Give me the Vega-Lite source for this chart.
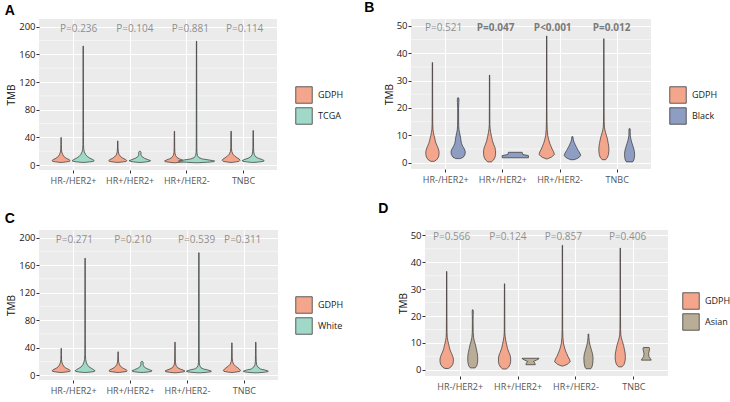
{
"$schema": "https://vega.github.io/schema/vega-lite/v6.json",
"background": "white",
"padding": {"left": 4, "top": 1, "right": 0, "bottom": 0},
"config": {
  "view": {"fill": "#EBEBEB", "stroke": null},
  "axis": {"domain": false, "gridColor": "#FFFFFF", "gridWidth": 1.1, "tickColor": "#333333", "tickSize": 3, "labelFont": "Open Sans", "titleFont": "Open Sans", "labelOverlap": false, "tickCount": 20},
  "axisY": {"labelFontSize": 9.5, "labelColor": "#1a1a1a", "titleFontSize": 10, "titleFontWeight": "normal", "titleColor": "#111111", "labelPadding": 1, "titlePadding": 2},
  "axisX": {"labelFontSize": 9, "labelColor": "#555555", "labelPadding": 3},
  "legend": {"orient": "none", "symbolType": "square", "symbolSize": 272, "symbolStrokeColor": "#3a3a3a", "symbolStrokeWidth": 0.8, "symbolOpacity": 1, "labelFont": "Open Sans", "labelFontSize": 9, "labelColor": "#1a1a1a", "labelOffset": 5, "rowPadding": 1},
  "title": {"anchor": "start", "frame": "bounds", "fontSize": 14, "fontWeight": "bold", "font": "Liberation Sans", "color": "#000000", "offset": 1}
},
"datasets": {
  "minA": [{"m":20},{"m":60},{"m":100},{"m":140},{"m":180}],
  "minB": [{"m":5},{"m":15},{"m":25},{"m":35},{"m":45}],
  "A": [
    {"c":0.79,"g":"GDPH","y":4,"w":0.02},{"c":0.79,"g":"GDPH","y":4.8,"w":0.1},{"c":0.79,"g":"GDPH","y":5.5,"w":0.15},{"c":0.79,"g":"GDPH","y":6.5,"w":0.16},{"c":0.79,"g":"GDPH","y":8,"w":0.14},{"c":0.79,"g":"GDPH","y":10,"w":0.09},{"c":0.79,"g":"GDPH","y":12,"w":0.055},{"c":0.79,"g":"GDPH","y":15,"w":0.03},{"c":0.79,"g":"GDPH","y":19,"w":0.012},{"c":0.79,"g":"GDPH","y":23,"w":0.006},{"c":0.79,"g":"GDPH","y":30,"w":0.004},{"c":0.79,"g":"GDPH","y":40,"w":0.003},
    {"c":1.18,"g":"TCGA","y":4,"w":0.03},{"c":1.18,"g":"TCGA","y":4.8,"w":0.12},{"c":1.18,"g":"TCGA","y":5.5,"w":0.18},{"c":1.18,"g":"TCGA","y":6.5,"w":0.195},{"c":1.18,"g":"TCGA","y":8,"w":0.17},{"c":1.18,"g":"TCGA","y":10,"w":0.12},{"c":1.18,"g":"TCGA","y":12,"w":0.08},{"c":1.18,"g":"TCGA","y":15,"w":0.045},{"c":1.18,"g":"TCGA","y":19,"w":0.02},{"c":1.18,"g":"TCGA","y":23,"w":0.01},{"c":1.18,"g":"TCGA","y":30,"w":0.005},{"c":1.18,"g":"TCGA","y":50,"w":0.004},{"c":1.18,"g":"TCGA","y":172,"w":0.003},
    {"c":1.79,"g":"GDPH","y":4,"w":0.02},{"c":1.79,"g":"GDPH","y":4.8,"w":0.1},{"c":1.79,"g":"GDPH","y":5.5,"w":0.15},{"c":1.79,"g":"GDPH","y":6.5,"w":0.16},{"c":1.79,"g":"GDPH","y":8,"w":0.14},{"c":1.79,"g":"GDPH","y":10,"w":0.09},{"c":1.79,"g":"GDPH","y":12,"w":0.055},{"c":1.79,"g":"GDPH","y":15,"w":0.025},{"c":1.79,"g":"GDPH","y":19,"w":0.01},{"c":1.79,"g":"GDPH","y":25,"w":0.005},{"c":1.79,"g":"GDPH","y":35,"w":0.003},
    {"c":2.18,"g":"TCGA","y":4,"w":0.03},{"c":2.18,"g":"TCGA","y":4.8,"w":0.12},{"c":2.18,"g":"TCGA","y":5.5,"w":0.17},{"c":2.18,"g":"TCGA","y":6.5,"w":0.19},{"c":2.18,"g":"TCGA","y":8,"w":0.14},{"c":2.18,"g":"TCGA","y":10,"w":0.08},{"c":2.18,"g":"TCGA","y":12,"w":0.04},{"c":2.18,"g":"TCGA","y":14,"w":0.025},{"c":2.18,"g":"TCGA","y":16,"w":0.018},{"c":2.18,"g":"TCGA","y":18,"w":0.022},{"c":2.18,"g":"TCGA","y":19.5,"w":0.015},{"c":2.18,"g":"TCGA","y":20,"w":0.01},
    {"c":2.79,"g":"GDPH","y":3.5,"w":0.02},{"c":2.79,"g":"GDPH","y":4.3,"w":0.1},{"c":2.79,"g":"GDPH","y":5,"w":0.16},{"c":2.79,"g":"GDPH","y":6,"w":0.175},{"c":2.79,"g":"GDPH","y":7.5,"w":0.14},{"c":2.79,"g":"GDPH","y":9,"w":0.09},{"c":2.79,"g":"GDPH","y":11,"w":0.045},{"c":2.79,"g":"GDPH","y":14,"w":0.02},{"c":2.79,"g":"GDPH","y":18,"w":0.008},{"c":2.79,"g":"GDPH","y":25,"w":0.005},{"c":2.79,"g":"GDPH","y":49,"w":0.003},
    {"c":3.18,"g":"TCGA","y":3.5,"w":0.03},{"c":3.18,"g":"TCGA","y":4.3,"w":0.2},{"c":3.18,"g":"TCGA","y":5,"w":0.3},{"c":3.18,"g":"TCGA","y":6,"w":0.32},{"c":3.18,"g":"TCGA","y":7.5,"w":0.22},{"c":3.18,"g":"TCGA","y":9,"w":0.1},{"c":3.18,"g":"TCGA","y":11,"w":0.04},{"c":3.18,"g":"TCGA","y":14,"w":0.015},{"c":3.18,"g":"TCGA","y":18,"w":0.008},{"c":3.18,"g":"TCGA","y":25,"w":0.005},{"c":3.18,"g":"TCGA","y":179,"w":0.003},
    {"c":3.79,"g":"GDPH","y":4,"w":0.02},{"c":3.79,"g":"GDPH","y":4.8,"w":0.09},{"c":3.79,"g":"GDPH","y":5.5,"w":0.14},{"c":3.79,"g":"GDPH","y":7,"w":0.158},{"c":3.79,"g":"GDPH","y":9,"w":0.14},{"c":3.79,"g":"GDPH","y":11,"w":0.1},{"c":3.79,"g":"GDPH","y":13,"w":0.065},{"c":3.79,"g":"GDPH","y":16,"w":0.03},{"c":3.79,"g":"GDPH","y":20,"w":0.012},{"c":3.79,"g":"GDPH","y":25,"w":0.006},{"c":3.79,"g":"GDPH","y":49,"w":0.003},
    {"c":4.18,"g":"TCGA","y":4,"w":0.03},{"c":4.18,"g":"TCGA","y":4.8,"w":0.12},{"c":4.18,"g":"TCGA","y":5.5,"w":0.18},{"c":4.18,"g":"TCGA","y":6.5,"w":0.195},{"c":4.18,"g":"TCGA","y":8,"w":0.16},{"c":4.18,"g":"TCGA","y":10,"w":0.09},{"c":4.18,"g":"TCGA","y":12,"w":0.045},{"c":4.18,"g":"TCGA","y":15,"w":0.02},{"c":4.18,"g":"TCGA","y":19,"w":0.01},{"c":4.18,"g":"TCGA","y":25,"w":0.006},{"c":4.18,"g":"TCGA","y":50,"w":0.003}
  ],
  "C": [
    {"c":0.79,"g":"GDPH","y":4,"w":0.02},{"c":0.79,"g":"GDPH","y":4.8,"w":0.1},{"c":0.79,"g":"GDPH","y":5.5,"w":0.15},{"c":0.79,"g":"GDPH","y":6.5,"w":0.16},{"c":0.79,"g":"GDPH","y":8,"w":0.14},{"c":0.79,"g":"GDPH","y":10,"w":0.09},{"c":0.79,"g":"GDPH","y":12,"w":0.055},{"c":0.79,"g":"GDPH","y":15,"w":0.03},{"c":0.79,"g":"GDPH","y":19,"w":0.012},{"c":0.79,"g":"GDPH","y":23,"w":0.006},{"c":0.79,"g":"GDPH","y":30,"w":0.004},{"c":0.79,"g":"GDPH","y":39,"w":0.003},
    {"c":1.21,"g":"White","y":4,"w":0.03},{"c":1.21,"g":"White","y":4.8,"w":0.12},{"c":1.21,"g":"White","y":5.5,"w":0.165},{"c":1.21,"g":"White","y":6.5,"w":0.175},{"c":1.21,"g":"White","y":8,"w":0.15},{"c":1.21,"g":"White","y":10,"w":0.11},{"c":1.21,"g":"White","y":12,"w":0.07},{"c":1.21,"g":"White","y":15,"w":0.04},{"c":1.21,"g":"White","y":19,"w":0.02},{"c":1.21,"g":"White","y":23,"w":0.01},{"c":1.21,"g":"White","y":30,"w":0.005},{"c":1.21,"g":"White","y":50,"w":0.004},{"c":1.21,"g":"White","y":170,"w":0.003},
    {"c":1.79,"g":"GDPH","y":4,"w":0.02},{"c":1.79,"g":"GDPH","y":4.8,"w":0.1},{"c":1.79,"g":"GDPH","y":5.5,"w":0.15},{"c":1.79,"g":"GDPH","y":6.5,"w":0.16},{"c":1.79,"g":"GDPH","y":8,"w":0.14},{"c":1.79,"g":"GDPH","y":10,"w":0.09},{"c":1.79,"g":"GDPH","y":12,"w":0.055},{"c":1.79,"g":"GDPH","y":15,"w":0.025},{"c":1.79,"g":"GDPH","y":19,"w":0.01},{"c":1.79,"g":"GDPH","y":25,"w":0.005},{"c":1.79,"g":"GDPH","y":34,"w":0.003},
    {"c":2.21,"g":"White","y":4,"w":0.03},{"c":2.21,"g":"White","y":4.8,"w":0.12},{"c":2.21,"g":"White","y":5.5,"w":0.165},{"c":2.21,"g":"White","y":6.5,"w":0.175},{"c":2.21,"g":"White","y":8,"w":0.13},{"c":2.21,"g":"White","y":10,"w":0.075},{"c":2.21,"g":"White","y":12,"w":0.04},{"c":2.21,"g":"White","y":14,"w":0.025},{"c":2.21,"g":"White","y":16,"w":0.018},{"c":2.21,"g":"White","y":18,"w":0.022},{"c":2.21,"g":"White","y":19.5,"w":0.015},{"c":2.21,"g":"White","y":20,"w":0.01},
    {"c":2.79,"g":"GDPH","y":3.5,"w":0.02},{"c":2.79,"g":"GDPH","y":4.3,"w":0.1},{"c":2.79,"g":"GDPH","y":5,"w":0.16},{"c":2.79,"g":"GDPH","y":6,"w":0.175},{"c":2.79,"g":"GDPH","y":7.5,"w":0.14},{"c":2.79,"g":"GDPH","y":9,"w":0.09},{"c":2.79,"g":"GDPH","y":11,"w":0.045},{"c":2.79,"g":"GDPH","y":14,"w":0.02},{"c":2.79,"g":"GDPH","y":18,"w":0.008},{"c":2.79,"g":"GDPH","y":25,"w":0.005},{"c":2.79,"g":"GDPH","y":48,"w":0.003},
    {"c":3.21,"g":"White","y":3.5,"w":0.03},{"c":3.21,"g":"White","y":4.3,"w":0.15},{"c":3.21,"g":"White","y":5,"w":0.21},{"c":3.21,"g":"White","y":6,"w":0.22},{"c":3.21,"g":"White","y":7.5,"w":0.16},{"c":3.21,"g":"White","y":9,"w":0.08},{"c":3.21,"g":"White","y":11,"w":0.035},{"c":3.21,"g":"White","y":14,"w":0.015},{"c":3.21,"g":"White","y":18,"w":0.008},{"c":3.21,"g":"White","y":25,"w":0.005},{"c":3.21,"g":"White","y":178,"w":0.003},
    {"c":3.79,"g":"GDPH","y":4,"w":0.02},{"c":3.79,"g":"GDPH","y":4.8,"w":0.09},{"c":3.79,"g":"GDPH","y":5.5,"w":0.14},{"c":3.79,"g":"GDPH","y":7,"w":0.15},{"c":3.79,"g":"GDPH","y":9,"w":0.13},{"c":3.79,"g":"GDPH","y":11,"w":0.1},{"c":3.79,"g":"GDPH","y":13,"w":0.065},{"c":3.79,"g":"GDPH","y":16,"w":0.03},{"c":3.79,"g":"GDPH","y":20,"w":0.012},{"c":3.79,"g":"GDPH","y":25,"w":0.006},{"c":3.79,"g":"GDPH","y":47,"w":0.003},
    {"c":4.21,"g":"White","y":3.5,"w":0.03},{"c":4.21,"g":"White","y":4.3,"w":0.15},{"c":4.21,"g":"White","y":5,"w":0.21},{"c":4.21,"g":"White","y":6,"w":0.22},{"c":4.21,"g":"White","y":7.5,"w":0.16},{"c":4.21,"g":"White","y":9,"w":0.08},{"c":4.21,"g":"White","y":12,"w":0.035},{"c":4.21,"g":"White","y":15,"w":0.015},{"c":4.21,"g":"White","y":20,"w":0.008},{"c":4.21,"g":"White","y":30,"w":0.005},{"c":4.21,"g":"White","y":48,"w":0.003}
  ],
  "B": [
    {"c":0.775,"g":"GDPH","y":0.5,"w":0.03},{"c":0.775,"g":"GDPH","y":1,"w":0.07},{"c":0.775,"g":"GDPH","y":2,"w":0.105},{"c":0.775,"g":"GDPH","y":3,"w":0.115},{"c":0.775,"g":"GDPH","y":4,"w":0.116},{"c":0.775,"g":"GDPH","y":5,"w":0.105},{"c":0.775,"g":"GDPH","y":6,"w":0.085},{"c":0.775,"g":"GDPH","y":7,"w":0.065},{"c":0.775,"g":"GDPH","y":8,"w":0.05},{"c":0.775,"g":"GDPH","y":9,"w":0.04},{"c":0.775,"g":"GDPH","y":10,"w":0.028},{"c":0.775,"g":"GDPH","y":11,"w":0.018},{"c":0.775,"g":"GDPH","y":12,"w":0.01},{"c":0.775,"g":"GDPH","y":14,"w":0.006},{"c":0.775,"g":"GDPH","y":20,"w":0.004},{"c":0.775,"g":"GDPH","y":36.6,"w":0.003},
    {"c":1.225,"g":"Black","y":1.5,"w":0.04},{"c":1.225,"g":"Black","y":2,"w":0.09},{"c":1.225,"g":"Black","y":3,"w":0.12},{"c":1.225,"g":"Black","y":4,"w":0.125},{"c":1.225,"g":"Black","y":5,"w":0.11},{"c":1.225,"g":"Black","y":6,"w":0.08},{"c":1.225,"g":"Black","y":7,"w":0.06},{"c":1.225,"g":"Black","y":8,"w":0.05},{"c":1.225,"g":"Black","y":9,"w":0.044},{"c":1.225,"g":"Black","y":10,"w":0.035},{"c":1.225,"g":"Black","y":11,"w":0.025},{"c":1.225,"g":"Black","y":12,"w":0.015},{"c":1.225,"g":"Black","y":13.5,"w":0.01},{"c":1.225,"g":"Black","y":16,"w":0.008},{"c":1.225,"g":"Black","y":20,"w":0.008},{"c":1.225,"g":"Black","y":22,"w":0.012},{"c":1.225,"g":"Black","y":23,"w":0.015},{"c":1.225,"g":"Black","y":23.7,"w":0.008},
    {"c":1.775,"g":"GDPH","y":0.3,"w":0.03},{"c":1.775,"g":"GDPH","y":1,"w":0.07},{"c":1.775,"g":"GDPH","y":2,"w":0.095},{"c":1.775,"g":"GDPH","y":3,"w":0.105},{"c":1.775,"g":"GDPH","y":4.4,"w":0.105},{"c":1.775,"g":"GDPH","y":5.5,"w":0.095},{"c":1.775,"g":"GDPH","y":6.5,"w":0.075},{"c":1.775,"g":"GDPH","y":8,"w":0.05},{"c":1.775,"g":"GDPH","y":9.5,"w":0.035},{"c":1.775,"g":"GDPH","y":11,"w":0.02},{"c":1.775,"g":"GDPH","y":12.5,"w":0.01},{"c":1.775,"g":"GDPH","y":14,"w":0.005},{"c":1.775,"g":"GDPH","y":20,"w":0.004},{"c":1.775,"g":"GDPH","y":32,"w":0.003},
    {"c":2.225,"g":"Black","y":1.8,"w":0.23},{"c":2.225,"g":"Black","y":2.6,"w":0.23},{"c":2.225,"g":"Black","y":3.0,"w":0.13},{"c":2.225,"g":"Black","y":3.8,"w":0.12},
    {"c":2.775,"g":"GDPH","y":1.4,"w":0.01},{"c":2.775,"g":"GDPH","y":2,"w":0.08},{"c":2.775,"g":"GDPH","y":3,"w":0.135},{"c":2.775,"g":"GDPH","y":4,"w":0.12},{"c":2.775,"g":"GDPH","y":5,"w":0.095},{"c":2.775,"g":"GDPH","y":6,"w":0.075},{"c":2.775,"g":"GDPH","y":7,"w":0.055},{"c":2.775,"g":"GDPH","y":8,"w":0.04},{"c":2.775,"g":"GDPH","y":9,"w":0.028},{"c":2.775,"g":"GDPH","y":10,"w":0.018},{"c":2.775,"g":"GDPH","y":12,"w":0.009},{"c":2.775,"g":"GDPH","y":15,"w":0.005},{"c":2.775,"g":"GDPH","y":20,"w":0.004},{"c":2.775,"g":"GDPH","y":46.3,"w":0.003},
    {"c":3.225,"g":"Black","y":1.1,"w":0.03},{"c":3.225,"g":"Black","y":1.5,"w":0.08},{"c":3.225,"g":"Black","y":2,"w":0.12},{"c":3.225,"g":"Black","y":2.7,"w":0.145},{"c":3.225,"g":"Black","y":3.5,"w":0.13},{"c":3.225,"g":"Black","y":4.5,"w":0.1},{"c":3.225,"g":"Black","y":5.5,"w":0.075},{"c":3.225,"g":"Black","y":6.5,"w":0.05},{"c":3.225,"g":"Black","y":7.5,"w":0.03},{"c":3.225,"g":"Black","y":8.3,"w":0.015},{"c":3.225,"g":"Black","y":9,"w":0.012},{"c":3.225,"g":"Black","y":9.5,"w":0.01},
    {"c":3.775,"g":"GDPH","y":1.1,"w":0.03},{"c":3.775,"g":"GDPH","y":2,"w":0.065},{"c":3.775,"g":"GDPH","y":3,"w":0.08},{"c":3.775,"g":"GDPH","y":4,"w":0.087},{"c":3.775,"g":"GDPH","y":5,"w":0.088},{"c":3.775,"g":"GDPH","y":6,"w":0.085},{"c":3.775,"g":"GDPH","y":7,"w":0.077},{"c":3.775,"g":"GDPH","y":8,"w":0.068},{"c":3.775,"g":"GDPH","y":9,"w":0.058},{"c":3.775,"g":"GDPH","y":10,"w":0.045},{"c":3.775,"g":"GDPH","y":11,"w":0.03},{"c":3.775,"g":"GDPH","y":12,"w":0.018},{"c":3.775,"g":"GDPH","y":13,"w":0.01},{"c":3.775,"g":"GDPH","y":15,"w":0.006},{"c":3.775,"g":"GDPH","y":20,"w":0.004},{"c":3.775,"g":"GDPH","y":45.3,"w":0.003},
    {"c":4.225,"g":"Black","y":0.3,"w":0.055},{"c":4.225,"g":"Black","y":1,"w":0.075},{"c":4.225,"g":"Black","y":2,"w":0.085},{"c":4.225,"g":"Black","y":3,"w":0.088},{"c":4.225,"g":"Black","y":4,"w":0.085},{"c":4.225,"g":"Black","y":5,"w":0.075},{"c":4.225,"g":"Black","y":6,"w":0.06},{"c":4.225,"g":"Black","y":7,"w":0.045},{"c":4.225,"g":"Black","y":8,"w":0.03},{"c":4.225,"g":"Black","y":9,"w":0.02},{"c":4.225,"g":"Black","y":10,"w":0.012},{"c":4.225,"g":"Black","y":11,"w":0.012},{"c":4.225,"g":"Black","y":12.4,"w":0.01}
  ],
  "D": [
    {"c":0.775,"g":"GDPH","y":0.5,"w":0.03},{"c":0.775,"g":"GDPH","y":1,"w":0.07},{"c":0.775,"g":"GDPH","y":2,"w":0.105},{"c":0.775,"g":"GDPH","y":3,"w":0.115},{"c":0.775,"g":"GDPH","y":4,"w":0.116},{"c":0.775,"g":"GDPH","y":5,"w":0.105},{"c":0.775,"g":"GDPH","y":6,"w":0.085},{"c":0.775,"g":"GDPH","y":7,"w":0.065},{"c":0.775,"g":"GDPH","y":8,"w":0.05},{"c":0.775,"g":"GDPH","y":9,"w":0.04},{"c":0.775,"g":"GDPH","y":10,"w":0.028},{"c":0.775,"g":"GDPH","y":11,"w":0.018},{"c":0.775,"g":"GDPH","y":12,"w":0.01},{"c":0.775,"g":"GDPH","y":14,"w":0.006},{"c":0.775,"g":"GDPH","y":20,"w":0.004},{"c":0.775,"g":"GDPH","y":36.6,"w":0.003},
    {"c":1.225,"g":"Asian","y":0.7,"w":0.04},{"c":1.225,"g":"Asian","y":1.5,"w":0.07},{"c":1.225,"g":"Asian","y":3,"w":0.085},{"c":1.225,"g":"Asian","y":5,"w":0.086},{"c":1.225,"g":"Asian","y":6.5,"w":0.075},{"c":1.225,"g":"Asian","y":8,"w":0.06},{"c":1.225,"g":"Asian","y":9.5,"w":0.045},{"c":1.225,"g":"Asian","y":10.5,"w":0.03},{"c":1.225,"g":"Asian","y":12,"w":0.015},{"c":1.225,"g":"Asian","y":14,"w":0.008},{"c":1.225,"g":"Asian","y":18,"w":0.006},{"c":1.225,"g":"Asian","y":20.5,"w":0.008},{"c":1.225,"g":"Asian","y":21.5,"w":0.01},{"c":1.225,"g":"Asian","y":22.3,"w":0.006},
    {"c":1.775,"g":"GDPH","y":0.3,"w":0.03},{"c":1.775,"g":"GDPH","y":1,"w":0.07},{"c":1.775,"g":"GDPH","y":2,"w":0.095},{"c":1.775,"g":"GDPH","y":3,"w":0.105},{"c":1.775,"g":"GDPH","y":4.4,"w":0.105},{"c":1.775,"g":"GDPH","y":5.5,"w":0.095},{"c":1.775,"g":"GDPH","y":6.5,"w":0.075},{"c":1.775,"g":"GDPH","y":8,"w":0.05},{"c":1.775,"g":"GDPH","y":9.5,"w":0.035},{"c":1.775,"g":"GDPH","y":11,"w":0.02},{"c":1.775,"g":"GDPH","y":12.5,"w":0.01},{"c":1.775,"g":"GDPH","y":14,"w":0.005},{"c":1.775,"g":"GDPH","y":20,"w":0.004},{"c":1.775,"g":"GDPH","y":32,"w":0.003},
    {"c":2.225,"g":"Asian","y":1.9,"w":0.08},{"c":2.225,"g":"Asian","y":2.5,"w":0.075},{"c":2.225,"g":"Asian","y":3.1,"w":0.05},{"c":2.225,"g":"Asian","y":3.6,"w":0.1},{"c":2.225,"g":"Asian","y":4.0,"w":0.14},{"c":2.225,"g":"Asian","y":4.3,"w":0.145},
    {"c":2.775,"g":"GDPH","y":1.4,"w":0.01},{"c":2.775,"g":"GDPH","y":2,"w":0.08},{"c":2.775,"g":"GDPH","y":3,"w":0.135},{"c":2.775,"g":"GDPH","y":4,"w":0.12},{"c":2.775,"g":"GDPH","y":5,"w":0.095},{"c":2.775,"g":"GDPH","y":6,"w":0.075},{"c":2.775,"g":"GDPH","y":7,"w":0.055},{"c":2.775,"g":"GDPH","y":8,"w":0.04},{"c":2.775,"g":"GDPH","y":9,"w":0.028},{"c":2.775,"g":"GDPH","y":10,"w":0.018},{"c":2.775,"g":"GDPH","y":12,"w":0.009},{"c":2.775,"g":"GDPH","y":15,"w":0.005},{"c":2.775,"g":"GDPH","y":20,"w":0.004},{"c":2.775,"g":"GDPH","y":46.3,"w":0.003},
    {"c":3.225,"g":"Asian","y":0.4,"w":0.04},{"c":3.225,"g":"Asian","y":1,"w":0.06},{"c":3.225,"g":"Asian","y":2.5,"w":0.075},{"c":3.225,"g":"Asian","y":4.5,"w":0.08},{"c":3.225,"g":"Asian","y":6,"w":0.07},{"c":3.225,"g":"Asian","y":7.5,"w":0.05},{"c":3.225,"g":"Asian","y":9,"w":0.03},{"c":3.225,"g":"Asian","y":10.5,"w":0.015},{"c":3.225,"g":"Asian","y":12,"w":0.008},{"c":3.225,"g":"Asian","y":13.3,"w":0.006},
    {"c":3.775,"g":"GDPH","y":1.1,"w":0.03},{"c":3.775,"g":"GDPH","y":2,"w":0.065},{"c":3.775,"g":"GDPH","y":3,"w":0.08},{"c":3.775,"g":"GDPH","y":4,"w":0.087},{"c":3.775,"g":"GDPH","y":5,"w":0.088},{"c":3.775,"g":"GDPH","y":6,"w":0.085},{"c":3.775,"g":"GDPH","y":7,"w":0.077},{"c":3.775,"g":"GDPH","y":8,"w":0.068},{"c":3.775,"g":"GDPH","y":9,"w":0.058},{"c":3.775,"g":"GDPH","y":10,"w":0.045},{"c":3.775,"g":"GDPH","y":11,"w":0.03},{"c":3.775,"g":"GDPH","y":12,"w":0.018},{"c":3.775,"g":"GDPH","y":13,"w":0.01},{"c":3.775,"g":"GDPH","y":15,"w":0.006},{"c":3.775,"g":"GDPH","y":20,"w":0.004},{"c":3.775,"g":"GDPH","y":45.3,"w":0.003},
    {"c":4.225,"g":"Asian","y":3.6,"w":0.085},{"c":4.225,"g":"Asian","y":4.2,"w":0.07},{"c":4.225,"g":"Asian","y":5,"w":0.045},{"c":4.225,"g":"Asian","y":6,"w":0.04},{"c":4.225,"g":"Asian","y":7,"w":0.05},{"c":4.225,"g":"Asian","y":7.8,"w":0.057},{"c":4.225,"g":"Asian","y":8.3,"w":0.05}
  ],
  "Ap": [{"x":1.1,"y":200,"t":"P=0.236","b":false},{"x":2.09,"y":200,"t":"P=0.104","b":false},{"x":3.07,"y":200,"t":"P=0.881","b":false},{"x":4.03,"y":200,"t":"P=0.114","b":false}],
  "Bp": [{"x":0.97,"y":50,"t":"P=0.521","b":false},{"x":1.88,"y":50,"t":"P=0.047","b":true},{"x":2.88,"y":50,"t":"P<0.001","b":true},{"x":3.91,"y":50,"t":"P=0.012","b":true}],
  "Cp": [{"x":1.02,"y":200,"t":"P=0.271","b":false},{"x":2.05,"y":200,"t":"P=0.210","b":false},{"x":3.17,"y":200,"t":"P=0.539","b":false},{"x":3.98,"y":200,"t":"P=0.311","b":false}],
  "Dp": [{"x":0.86,"y":50,"t":"P=0.566","b":false},{"x":1.83,"y":50,"t":"P=0.124","b":false},{"x":2.79,"y":50,"t":"P=0.857","b":false},{"x":3.9,"y":50,"t":"P=0.406","b":false}]
},
"spacing": 17,
"vconcat": [
  {"spacing": 20, "hconcat": [
    {"width": 238, "height": 151, "title": {"text": "A", "dx": -2},
     "layer": [
      {"data": {"name": "minA"}, "mark": {"type": "rule", "color": "#FFFFFF", "strokeWidth": 0.5},
       "encoding": {"y": {"field": "m", "type": "quantitative", "title": "TMB", "scale": {"domain": [-7, 211], "nice": false, "zero": false},
               "axis": {"values": [0,40,80,120,160,200], "labelOverlap": false, "tickCount": 20}}}},
      {"data": {"name": "A"},
       "transform": [{"calculate": "datum.c - datum.w", "as": "lo"}, {"calculate": "datum.c + datum.w", "as": "hi"}],
       "mark": {"type": "area", "orient": "horizontal", "stroke": "#333333", "strokeWidth": 0.7, "opacity": 1},
       "encoding": {
         "y": {"field": "y", "type": "quantitative"},
         "x": {"field": "lo", "type": "quantitative", "stack": null, "title": null, "scale": {"domain": [0.4, 4.6], "nice": false, "zero": false},
               "axis": {"values": [1,2,3,4], "labelExpr": "['','HR-/HER2+','HR+/HER2+','HR+/HER2-','TNBC'][datum.value]"}},
         "x2": {"field": "hi"},
         "fill": {"field": "g", "type": "nominal", "scale": {"domain": ["GDPH", "TCGA"], "range": ["#F4A68D", "#A0D9C8"]}, "legend": {"title": null, "legendX": 256, "legendY": 67}},
         "detail": {"field": "c", "type": "nominal"}
       }},
      {"data": {"name": "Ap"},
       "mark": {"type": "text", "font": "Open Sans", "fontSize": 10, "color": "#8f8f8f", "baseline": "middle", "dy": 2},
       "encoding": {"x": {"field": "x", "type": "quantitative"}, "y": {"field": "y", "type": "quantitative"}, "text": {"field": "t"}}}
     ]},
    {"width": 240, "height": 150, "title": {"text": "B", "dx": -20, "offset": 4},
     "layer": [
      {"data": {"name": "minB"}, "mark": {"type": "rule", "color": "#FFFFFF", "strokeWidth": 0.5},
       "encoding": {"y": {"field": "m", "type": "quantitative", "title": "TMB", "scale": {"domain": [-2.3, 52.5], "nice": false, "zero": false},
               "axis": {"values": [0,10,20,30,40,50], "labelOverlap": false, "tickCount": 20}}}},
      {"data": {"name": "B"},
       "transform": [{"calculate": "datum.c - datum.w", "as": "lo"}, {"calculate": "datum.c + datum.w", "as": "hi"}],
       "mark": {"type": "area", "orient": "horizontal", "stroke": "#333333", "strokeWidth": 0.7, "opacity": 1},
       "encoding": {
         "y": {"field": "y", "type": "quantitative"},
         "x": {"field": "lo", "type": "quantitative", "stack": null, "title": null, "scale": {"domain": [0.4, 4.6], "nice": false, "zero": false},
               "axis": {"values": [1,2,3,4], "labelExpr": "['','HR-/HER2+','HR+/HER2+','HR+/HER2-','TNBC'][datum.value]"}},
         "x2": {"field": "hi"},
         "fill": {"field": "g", "type": "nominal", "scale": {"domain": ["GDPH", "Black"], "range": ["#F4A68D", "#8E9DC2"]}, "legend": {"title": null, "legendX": 258, "legendY": 67}},
         "detail": {"field": "c", "type": "nominal"}
       }},
      {"data": {"name": "Bp"}, "transform": [{"filter": "!datum.b"}],
       "mark": {"type": "text", "font": "Open Sans", "fontSize": 10, "color": "#8f8f8f", "baseline": "middle", "dy": 2},
       "encoding": {"x": {"field": "x", "type": "quantitative"}, "y": {"field": "y", "type": "quantitative"}, "text": {"field": "t"}}},
      {"data": {"name": "Bp"}, "transform": [{"filter": "datum.b"}],
       "mark": {"type": "text", "font": "Open Sans", "fontSize": 10, "fontWeight": "bold", "color": "#7a7a7a", "baseline": "middle", "dy": 2},
       "encoding": {"x": {"field": "x", "type": "quantitative"}, "y": {"field": "y", "type": "quantitative"}, "text": {"field": "t"}}}
     ]}
  ],
  "resolve": {"scale": {"fill": "independent"}}},
  {"spacing": 34, "hconcat": [
    {"width": 239, "height": 150, "title": {"text": "C", "offset": 4, "dx": -2},
     "layer": [
      {"data": {"name": "minA"}, "mark": {"type": "rule", "color": "#FFFFFF", "strokeWidth": 0.5},
       "encoding": {"y": {"field": "m", "type": "quantitative", "title": "TMB", "scale": {"domain": [-7, 211], "nice": false, "zero": false},
               "axis": {"values": [0,40,80,120,160,200], "labelOverlap": false, "tickCount": 20}}}},
      {"data": {"name": "C"},
       "transform": [{"calculate": "datum.c - datum.w", "as": "lo"}, {"calculate": "datum.c + datum.w", "as": "hi"}],
       "mark": {"type": "area", "orient": "horizontal", "stroke": "#333333", "strokeWidth": 0.7, "opacity": 1},
       "encoding": {
         "y": {"field": "y", "type": "quantitative"},
         "x": {"field": "lo", "type": "quantitative", "stack": null, "title": null, "scale": {"domain": [0.4, 4.6], "nice": false, "zero": false},
               "axis": {"values": [1,2,3,4], "labelExpr": "['','HR-/HER2+','HR+/HER2+','HR+/HER2-','TNBC'][datum.value]"}},
         "x2": {"field": "hi"},
         "fill": {"field": "g", "type": "nominal", "scale": {"domain": ["GDPH", "White"], "range": ["#F4A68D", "#A0D9C8"]}, "legend": {"title": null, "legendX": 256, "legendY": 66}},
         "detail": {"field": "c", "type": "nominal"}
       }},
      {"data": {"name": "Cp"},
       "mark": {"type": "text", "font": "Open Sans", "fontSize": 10, "color": "#8f8f8f", "baseline": "middle", "dy": 2},
       "encoding": {"x": {"field": "x", "type": "quantitative"}, "y": {"field": "y", "type": "quantitative"}, "text": {"field": "t"}}}
     ]},
    {"width": 243, "height": 146, "title": {"text": "D", "dx": -20, "offset": 14},
     "layer": [
      {"data": {"name": "minB"}, "mark": {"type": "rule", "color": "#FFFFFF", "strokeWidth": 0.5},
       "encoding": {"y": {"field": "m", "type": "quantitative", "title": "TMB", "scale": {"domain": [-2.3, 52], "nice": false, "zero": false},
               "axis": {"values": [0,10,20,30,40,50], "labelOverlap": false, "tickCount": 20}}}},
      {"data": {"name": "D"},
       "transform": [{"calculate": "datum.c - datum.w", "as": "lo"}, {"calculate": "datum.c + datum.w", "as": "hi"}],
       "mark": {"type": "area", "orient": "horizontal", "stroke": "#333333", "strokeWidth": 0.7, "opacity": 1},
       "encoding": {
         "y": {"field": "y", "type": "quantitative"},
         "x": {"field": "lo", "type": "quantitative", "stack": null, "title": null, "scale": {"domain": [0.4, 4.6], "nice": false, "zero": false},
               "axis": {"values": [1,2,3,4], "labelExpr": "['','HR-/HER2+','HR+/HER2+','HR+/HER2-','TNBC'][datum.value]"}},
         "x2": {"field": "hi"},
         "fill": {"field": "g", "type": "nominal", "scale": {"domain": ["GDPH", "Asian"], "range": ["#F4A68D", "#B9AD97"]}, "legend": {"title": null, "legendX": 257, "legendY": 62}},
         "detail": {"field": "c", "type": "nominal"}
       }},
      {"data": {"name": "Dp"},
       "mark": {"type": "text", "font": "Open Sans", "fontSize": 10, "color": "#8f8f8f", "baseline": "middle", "dy": 2},
       "encoding": {"x": {"field": "x", "type": "quantitative"}, "y": {"field": "y", "type": "quantitative"}, "text": {"field": "t"}}}
     ]}
  ],
  "resolve": {"scale": {"fill": "independent"}}}
],
"resolve": {"scale": {"fill": "independent"}}
}
